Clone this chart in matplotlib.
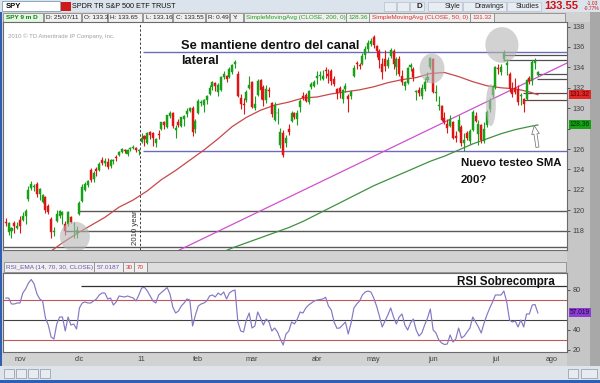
import matplotlib
matplotlib.use("Agg")
import matplotlib.pyplot as plt
from matplotlib.patches import Rectangle, Ellipse
import numpy as np
import pandas as pd

plt.rcParams['font.family'] = ['Liberation Sans', 'DejaVu Sans']

# trading days shown on the chart
holidays = ["2010-11-25", "2010-12-24", "2011-01-17", "2011-02-21",
            "2011-04-22", "2011-05-30", "2011-07-04"]
dates = pd.bdate_range("2010-10-25", "2011-07-25", freq="C", holidays=holidays)

opens = [118.8, 117.9, 118.0, 118.7, 118.3,
         119.0, 119.0, 119.4, 121.1, 122.2, 122.3, 122.6, 121.6, 120.8, 121.3, 120.4, 119.1, 117.9, 118.9, 119.4, 119.5, 118.6, 118.6, 119.3, 118.6, 117.8,
         119.6, 120.9, 122.0, 122.5, 123.9, 123.1, 124.0, 123.9, 124.9, 124.6, 124.7, 124.3, 124.8, 125.2, 125.4, 125.7, 125.9, 125.5, 126.0, 126.1, 126.1, 125.8,
         126.7, 127.3, 126.6, 127.7, 127.6, 126.6, 127.5, 128.0, 128.6, 128.2, 129.2, 129.5, 127.9, 128.6, 128.3, 128.9, 129.4, 129.7, 130.0, 128.0,
         129.5, 130.5, 130.3, 130.8, 131.4, 132.1, 132.5, 131.6, 131.8, 133.1, 133.2, 133.1, 133.5, 134.3, 133.4, 131.0, 130.4, 130.8, 132.0,
         132.6, 130.0, 131.3, 132.8, 132.1, 130.8, 131.8, 130.5, 128.8, 129.5, 126.4, 127.6, 126.6, 128.0, 128.7, 129.5, 128.9, 130.1, 131.2, 131.3, 130.6, 132.1, 132.2,
         133.0, 133.2, 132.9, 133.7, 133.4, 133.6, 132.9, 131.9, 132.0, 130.9, 131.9, 131.2, 131.2, 133.2, 134.4, 134.2, 134.3, 135.2, 135.8, 136.3,
         137.0, 136.1, 135.6, 134.3, 134.8, 134.1, 135.1, 135.6, 134.0, 134.8, 133.2, 132.2, 132.5, 134.0, 133.8, 131.6, 131.8, 131.2, 131.9, 132.8, 134.0,
         134.8, 131.5, 130.2, 130.2, 129.0, 128.5, 128.3, 128.6, 127.3, 127.8, 128.2, 126.6, 127.6, 126.8, 127.9, 129.2, 127.5, 128.4, 126.8, 128.4, 129.9, 131.3,
         132.1, 133.9, 133.5, 134.8, 134.2, 133.4, 131.9, 132.0, 131.9, 131.2, 130.9, 130.9, 133.0, 132.7, 134.4, 133.3]
highs = [119.2, 118.8, 118.4, 118.9, 118.8,
         119.4, 119.8, 120.1, 122.4, 122.9, 122.6, 122.8, 122.2, 121.6, 121.4, 120.6, 119.3, 118.4, 120.0, 120.0, 119.9, 118.9, 119.9, 119.4, 118.8, 118.5,
         120.9, 122.6, 122.8, 123.0, 124.1, 123.8, 124.2, 124.7, 125.2, 125.1, 125.1, 125.0, 125.0, 125.4, 125.8, 126.1, 126.0, 126.0, 126.2, 126.4, 126.2, 126.0,
         127.6, 127.4, 127.7, 127.8, 127.7, 127.1, 127.9, 128.6, 128.7, 129.3, 129.7, 129.6, 128.4, 128.9, 129.1, 129.3, 130.0, 130.1, 130.2, 128.9,
         130.9, 130.8, 130.9, 131.3, 132.3, 132.7, 132.6, 132.5, 133.2, 133.6, 133.3, 134.0, 134.3, 134.7, 133.6, 131.4, 131.0, 131.8, 133.2,
         132.7, 131.2, 132.9, 132.9, 132.3, 132.3, 132.1, 130.6, 130.6, 130.0, 128.1, 127.9, 127.4, 128.5, 129.7, 129.6, 129.8, 130.9, 131.6, 131.5, 131.8, 132.6, 132.8,
         133.6, 133.6, 133.7, 134.0, 133.8, 133.8, 133.2, 132.0, 132.2, 131.9, 132.5, 131.4, 131.8, 134.2, 134.6, 134.4, 135.4, 136.1, 136.7, 136.9,
         137.2, 136.2, 135.8, 134.9, 135.7, 135.0, 135.9, 135.8, 135.0, 135.1, 133.7, 132.7, 134.0, 134.4, 134.0, 131.8, 132.1, 132.4, 133.0, 133.5, 135.0,
         134.9, 132.3, 131.2, 130.3, 129.6, 128.9, 129.3, 128.7, 127.8, 129.3, 128.4, 127.6, 127.8, 128.0, 129.8, 129.6, 128.8, 128.5, 128.6, 129.8, 131.0, 132.3,
         134.1, 134.3, 134.3, 135.7, 134.8, 133.5, 132.6, 133.0, 132.3, 131.5, 131.0, 132.9, 133.2, 134.7, 134.9, 133.65]
lows = [118.5, 117.6, 117.3, 117.8, 118.2,
        117.8, 118.9, 118.6, 120.9, 122.0, 121.9, 121.3, 121.0, 120.7, 119.7, 119.6, 117.3, 117.5, 118.8, 119.2, 118.6, 117.6, 118.5, 118.7, 117.3, 117.3,
        119.5, 120.8, 121.9, 122.3, 122.8, 122.8, 123.4, 123.8, 124.4, 124.3, 124.0, 124.1, 124.5, 124.8, 125.3, 125.6, 125.6, 125.3, 125.8, 126.0, 125.7, 125.4,
        126.6, 126.3, 126.5, 127.0, 126.3, 126.2, 127.0, 127.9, 128.0, 128.1, 129.0, 128.1, 127.1, 128.2, 128.2, 128.3, 129.1, 129.6, 127.3, 127.6,
        129.4, 130.2, 129.6, 130.4, 131.3, 131.8, 131.7, 131.2, 131.7, 132.9, 132.6, 133.0, 133.4, 133.9, 131.1, 129.9, 129.4, 130.6, 131.9,
        130.0, 129.8, 131.2, 130.9, 130.2, 130.5, 131.1, 129.1, 128.7, 128.5, 126.1, 125.2, 126.2, 127.4, 128.6, 128.9, 128.4, 129.6, 130.8, 130.6, 130.4, 131.9, 132.1,
        132.4, 132.8, 132.8, 133.0, 132.5, 132.3, 132.2, 130.9, 131.0, 130.5, 131.6, 129.6, 130.9, 133.1, 133.8, 133.8, 134.2, 134.8, 135.5, 136.1,
        135.9, 135.0, 133.9, 132.9, 133.6, 133.9, 134.9, 133.8, 133.3, 133.2, 132.3, 131.8, 132.4, 133.6, 132.7, 130.8, 131.2, 130.9, 131.7, 132.6, 133.8,
        131.5, 130.7, 129.8, 128.7, 128.5, 127.6, 128.2, 127.0, 126.7, 127.7, 126.3, 125.8, 126.9, 126.5, 127.8, 128.6, 126.4, 126.6, 126.6, 128.2, 129.6, 131.0,
        131.9, 133.4, 133.3, 134.6, 133.3, 131.6, 131.1, 131.4, 130.3, 130.3, 129.6, 130.8, 132.4, 132.3, 133.8, 133.16]
closes = [118.7, 118.7, 118.3, 118.5, 118.5,
          118.5, 119.4, 119.9, 122.0, 122.6, 122.4, 121.6, 122.1, 121.5, 120.0, 119.8, 117.9, 118.0, 119.6, 119.9, 119.8, 118.0, 119.8, 118.8, 118.6, 118.1,
          120.7, 122.3, 122.6, 122.9, 123.0, 123.6, 123.8, 124.5, 124.6, 124.8, 124.2, 124.9, 124.9, 125.1, 125.7, 126.0, 125.8, 125.9, 126.0, 126.2, 125.9, 125.8,
          127.1, 127.0, 127.6, 127.4, 127.1, 127.0, 127.4, 128.6, 128.4, 129.3, 129.5, 128.3, 128.1, 128.4, 129.1, 129.2, 129.7, 130.0, 127.7, 128.7,
          130.7, 130.5, 130.8, 131.2, 132.0, 132.6, 132.2, 132.3, 133.1, 133.4, 132.9, 133.8, 134.2, 134.5, 131.2, 130.4, 130.3, 131.6, 132.3,
          130.1, 130.4, 132.7, 131.8, 130.8, 131.9, 131.7, 129.4, 130.3, 129.5, 127.7, 125.4, 127.1, 127.7, 129.5, 129.1, 129.5, 130.7, 131.0, 130.7, 131.7, 132.4, 132.6,
          133.2, 133.3, 133.2, 133.6, 133.2, 132.7, 132.4, 131.5, 131.6, 131.8, 132.2, 130.9, 131.6, 133.9, 134.3, 134.1, 135.1, 135.8, 136.4, 136.6,
          136.2, 135.6, 134.7, 133.5, 134.1, 134.7, 135.7, 134.3, 134.8, 133.4, 132.6, 132.6, 133.9, 134.2, 133.1, 131.6, 131.5, 132.0, 132.6, 133.1, 134.9,
          131.6, 131.5, 130.3, 128.8, 128.6, 128.1, 128.9, 127.1, 127.1, 128.8, 126.6, 126.9, 127.1, 127.8, 129.6, 128.7, 128.5, 126.9, 128.0, 129.6, 130.7, 132.1,
          134.0, 133.8, 134.0, 135.4, 134.4, 131.9, 131.4, 131.6, 130.6, 131.3, 130.4, 132.8, 132.7, 134.5, 134.6, 133.55]
rsi = [72, 72, 66, 66, 67,
       67, 77, 81, 87, 90.5, 86, 76, 71, 69, 52, 45, 33, 31, 46, 53, 53, 39, 53, 45, 46, 41,
       62, 67, 68, 67, 67, 69, 71, 75, 77, 77, 71, 72, 65, 68, 74, 73.5, 73, 74, 73, 72, 69, 75,
       82, 82.7, 79, 74, 69, 67, 75, 77.5, 80, 82.5, 76, 63, 57, 59, 64, 67, 71, 70, 44, 55,
       64, 66, 67, 69, 74, 75, 73, 77, 75, 78, 71, 77, 79, 80, 48, 39, 38, 50, 57,
       42, 44, 58, 52, 45, 51, 48, 39, 42, 38, 31, 25, 36, 39, 48, 46, 51, 58, 57, 62, 65, 67, 69,
       70, 70.5, 71, 72.7, 64, 60, 48, 41.7, 42, 45, 48, 36, 47, 62, 66, 69, 75, 78, 79, 78,
       72, 64, 54, 43, 49, 55, 62, 53, 46, 53, 56, 45, 40, 47, 51, 40, 34, 37, 45, 52, 61,
       40, 37, 30, 27, 25.5, 26, 35, 28, 31, 42, 32, 34, 38, 42, 53, 48, 43, 37, 47, 55, 62, 68,
       75, 75, 75, 79, 68, 50, 48, 49, 43, 50, 43, 56, 56, 65, 65.5, 57.02]

# moving averages read once a week (every 5th bar) plus the last bar
sma50 = [113.6, 114.3, 115.0, 115.8, 116.8, 117.7, 118.5, 119.3, 120.3, 121.0,
         121.9, 123.0, 123.9, 124.9, 125.9, 127.0, 128.2, 129.1, 129.8, 130.3,
         130.6, 131.0, 131.1, 131.4, 131.6, 131.8, 132.1, 132.5, 132.8, 133.0,
         133.4, 133.5, 133.1, 132.6, 132.2, 132.0, 131.9, 131.6, 131.32]
sma200 = [111.6, 111.8, 112.0, 112.2, 112.4, 112.6, 112.8, 113.1, 113.4, 113.7,
          114.0, 114.3, 114.6, 114.9, 115.2, 115.7, 116.3, 116.8, 117.3, 117.8,
          118.3, 118.9, 119.6, 120.3, 121.0, 121.7, 122.4, 123.0, 123.6, 124.2,
          124.8, 125.3, 125.9, 126.5, 127.0, 127.5, 127.9, 128.2, 128.36]

month_labels = ['nov', 'dic', '11', 'feb', 'mar', 'abr', 'may', 'jun', 'jul', 'ago']
price_ticks = [118, 120, 122, 124, 126, 128, 130, 132, 134, 136, 138]

W, H = 600, 383
fig = plt.figure(figsize=(6, 3.83), dpi=100)
fig.patch.set_facecolor('#d2d2d2')


def frac(x0, y0, x1, y1):
    return [x0 / W, 1 - y1 / H, (x1 - x0) / W, (y1 - y0) / H]


bg = fig.add_axes([0, 0, 1, 1], zorder=0)
bg.set_xlim(0, W)
bg.set_ylim(H, 0)
bg.axis('off')


def box(x0, y0, x1, y1, fc, ec='none', lw=0.6):
    bg.add_patch(Rectangle((x0, y0), x1 - x0, y1 - y0, facecolor=fc,
                           edgecolor=ec, linewidth=lw))


def label(x, y, s, color='#202020', size=4.6, weight='normal', ha='left'):
    bg.text(x, y, s, color=color, fontsize=size, fontweight=weight,
            ha=ha, va='center')


# window chrome
box(0, 0, 600, 12, '#dbe3ec')
box(2, 1, 60, 11, 'white', '#7f9db9')
label(6, 6.3, 'SPY', '#000000', 5.5, 'bold')
box(61, 2, 71, 11, '#d01818')
label(72, 6.3, 'SPDR TR S&P 500 ETF TRUST', '#101010', 5.2)
for x0, x1, s in [(384, 396, ''), (397, 409, ''), (410, 424, 'D'),
                  (428, 462, 'Style'), (463, 506, 'Drawings'), (507, 541, 'Studies')]:
    box(x0, 1.5, x1, 10.5, '#e8edf3', '#a9b6c6', 0.4)
    if s:
        label(x1 - 2, 6.2, s, '#202020', 5.0 if s != 'D' else 5.8,
              'bold' if s == 'D' else 'normal', ha='right')
label(544, 6.3, '133.55', '#d01010', 8.0, 'bold')
label(592, 3.5, '-1.03', '#d01010', 3.6, ha='center')
label(592, 8.5, '-0.77%', '#d01010', 3.6, ha='center')

cells = [(3, 43, 'SPY 9 m D', '#108010', '#e3f5e3'),
         (44, 81, 'D: 25/07/11', '#202020', '#f0f0f0'),
         (82, 107, 'O: 133.3', '#202020', '#f0f0f0'),
         (108, 142, 'H: 133.65', '#202020', '#f0f0f0'),
         (143, 172, 'L: 133.16', '#202020', '#f0f0f0'),
         (173, 205, 'C: 133.55', '#202020', '#f0f0f0'),
         (206, 229, 'R: 0.49', '#202020', '#f0f0f0'),
         (230, 243, 'Y:', '#202020', '#f0f0f0'),
         (244, 346, 'SimpleMovingAvg (CLOSE, 200, 0)', '#20a020', '#f0f0f0'),
         (346, 369, '128.36', '#20a020', '#f0f0f0'),
         (369, 470, 'SimpleMovingAvg (CLOSE, 50, 0)', '#e03030', '#f0f0f0'),
         (470, 494, '131.32', '#e03030', '#f0f0f0'),
         (494, 565, '', '#202020', '#e2e2e2')]
for x0, x1, s, tc, fc in cells:
    box(x0, 12.5, x1, 21.5, fc, '#8c8c8c', 0.6)
    label(x0 + 2.5, 17.2, s, tc, 4.6, 'bold' if s.startswith('SPY') else 'normal')

rsi_cells = [(4, 94, 'RSI_EMA (14, 70, 30, CLOSE)', '#7050b0', '#f0f0f0'),
             (94, 123, '57.0187', '#7050b0', '#f0f0f0'),
             (123, 134, '30', '#e03030', '#f0f0f0'),
             (134, 147, '70', '#e03030', '#f0f0f0'),
             (147, 566, '', '#202020', '#dedede')]
for x0, x1, s, tc, fc in rsi_cells:
    box(x0, 262, x1, 272, fc, '#8c8c8c', 0.6)
    label(x0 + 2.5, 267.2, s, tc, 4.6)

box(567, 22, 590, 366, '#c6c6c6')
box(590, 12, 600, 366, '#a8a8a8')
box(0, 366, 600, 383, '#dfe4ea')
box(0, 380, 600, 383, '#2f5fb5')
box(0, 12, 2, 366, '#2f5fb5')
for x0 in (4, 16, 28, 40):
    box(x0, 369, x0 + 10, 378, '#e8ecf0', '#8a98aa', 0.5)
box(568, 369, 578, 378, '#e8ecf0', '#8a98aa', 0.5)
box(581, 369, 597, 378, '#e8ecf0', '#8a98aa', 0.5)

x = np.arange(len(dates))
o, hi, lo, c = map(np.array, (opens, highs, lows, closes))
xlim = (-1.0, 198.3)
sx = np.r_[x[::5], x[-1]]

# price panel
ax = fig.add_axes(frac(3, 22, 567, 250), zorder=2)
ax.set_facecolor('white')
ax.set_xlim(*xlim)
ax.set_ylim(116.1, 138.45)
for s in ax.spines.values():
    s.set_color('#6a6a6a')
    s.set_linewidth(0.8)
ax.set_xticks([])
ax.yaxis.tick_right()
ax.set_yticks(price_ticks)
# the 128 label sits under the SMA200 value box, as on the platform
ax.set_yticklabels(['' if t == 128 else str(t) for t in price_ticks])
ax.tick_params(axis='y', length=2.5, width=0.6, colors='#404040',
               labelsize=5.2, pad=1.5)

xr = xlim[1]
ax.hlines([135.5, 125.8], 48.5, xr, color='#6b6bb8', lw=1.0, zorder=2)
ax.hlines(119.9, 26, xr, color='#5a5a5a', lw=1.0, zorder=2)
ax.hlines(118.0, 21, xr, color='#5a5a5a', lw=1.0, zorder=2)
ax.hlines(116.4, xlim[0], xr, color='#5a5a5a', lw=1.0, zorder=2)
ax.hlines([135.26, 134.7], 175.7, xr, color='#505050', lw=0.9, zorder=2)
ax.hlines([133.35, 132.9], 187.7, xr, color='#505050', lw=0.9, zorder=2)
ax.hlines([131.5, 130.85], 182.7, xr, color='#604848', lw=0.9, zorder=2)
ax.axline((80, 118.6), (188, 133.05), color='#d050d0', lw=0.9, zorder=2)
ax.axvline(47.5, color='#404040', lw=0.7, ls=(0, (2.5, 2)), zorder=2)
ax.text(47.0, 116.55, '2010 year', rotation=90, ha='right', va='bottom',
        fontsize=5.6, color='#303030')
ax.text(0.6, 137.1, '2010 \u00a9 TD Ameritrade IP Company, Inc.', fontsize=4.3,
        color='#a0a0a0', va='center')

ax.plot(sx, sma50, color='#c84848', lw=0.9, zorder=3)
ax.plot(sx, sma200, color='#409040', lw=0.9, zorder=3)

up = c >= o
col = np.where(up, '#18a018', '#e01414')
ax.vlines(x, lo, hi, colors=col, lw=0.8, zorder=4)
ax.bar(x, np.maximum(np.abs(c - o), 0.07), bottom=np.minimum(o, c), width=0.72,
       color=col, edgecolor=col, lw=0.3, zorder=5)

for cx, cy, w, h in [(24.4, 117.4, 10.6, 2.95), (150.6, 133.9, 8.8, 2.95),
                     (175.3, 136.2, 11.7, 3.5), (171.4, 130.3, 3.5, 4.1)]:
    ax.add_patch(Ellipse((cx, cy), w, h, facecolor='#b4b4b4', alpha=0.6,
                         edgecolor='none', zorder=6))

ax.annotate('', xy=(186.6, 128.55), xytext=(188.0, 125.9),
            arrowprops=dict(arrowstyle='simple,head_width=0.55,head_length=0.6,tail_width=0.22',
                            fc='white', ec='#808080', lw=0.6), zorder=7)

for val, fc, tc in [(131.32, '#e02828', '#5a0000'), (128.36, '#18a018', '#003000')]:
    ax.annotate(f'{val:.2f}', xy=(1.0, val), xycoords=('axes fraction', 'data'),
                xytext=(2, 0), textcoords='offset points', fontsize=4.8, color=tc,
                va='center', ha='left', annotation_clip=False,
                bbox=dict(boxstyle='square,pad=0.15', fc=fc, ec='none'))

# RSI panel
ax2 = fig.add_axes(frac(3, 273, 567, 352), zorder=2)
ax2.set_facecolor('white')
ax2.set_xlim(*xlim)
ax2.set_ylim(18, 97)
for s in ax2.spines.values():
    s.set_color('#6a6a6a')
    s.set_linewidth(0.8)
ax2.axhline(70, color='#c05858', lw=0.8)
ax2.axhline(30, color='#c05858', lw=0.8)
ax2.axhline(50, color='#404040', lw=0.8)
ax2.hlines(84, 26.5, xr, color='#303030', lw=0.9)
ax2.plot(x, rsi, color='#8677c4', lw=0.85)
ax2.yaxis.tick_right()
ax2.set_yticks([20, 40, 80])
ax2.set_yticklabels(['20', '40', '80'])
ax2.tick_params(axis='y', length=2.5, width=0.6, colors='#404040',
                labelsize=5.2, pad=1.5)
ax2.annotate('57.019', xy=(1.0, rsi[-1]), xycoords=('axes fraction', 'data'),
             xytext=(2, 0), textcoords='offset points', fontsize=4.8, color='#200040',
             va='center', ha='left', annotation_clip=False,
             bbox=dict(boxstyle='square,pad=0.15', fc='#8a3fd0', ec='none'))

future = pd.bdate_range(dates[-1] + pd.Timedelta(days=1), "2011-08-01")
month_pos = [int(np.argmax(dates >= pd.Timestamp(f"{y}-{m:02d}-01")))
             for y, m in [(2010, 11), (2010, 12), (2011, 1), (2011, 2), (2011, 3),
                          (2011, 4), (2011, 5), (2011, 6), (2011, 7)]]
month_pos.append(len(dates) - 1 + len(future))
ax2.set_xticks(month_pos)
ax2.set_xticklabels(month_labels)
ax2.tick_params(axis='x', length=0, labelsize=5.2, colors='#404040', pad=3)

top = fig.add_axes([0, 0, 1, 1], zorder=10)
top.set_xlim(0, W)
top.set_ylim(H, 0)
top.axis('off')
top.patch.set_alpha(0)
tkw = dict(fontweight='bold', color='#111111', va='center')
top.text(181, 46, 'Se mantiene dentro del canal', fontsize=9.3, **tkw)
top.text(181, 61, 'lateral', fontsize=9.3, **tkw)
top.text(461, 163, 'Nuevo testeo SMA', fontsize=8.2, **tkw)
top.text(461, 180, '200?', fontsize=8.2, **tkw)
top.text(457, 282, 'RSI Sobrecompra', fontsize=8.4, **tkw)

fig.savefig('out.png', dpi=100, facecolor=fig.get_facecolor())
